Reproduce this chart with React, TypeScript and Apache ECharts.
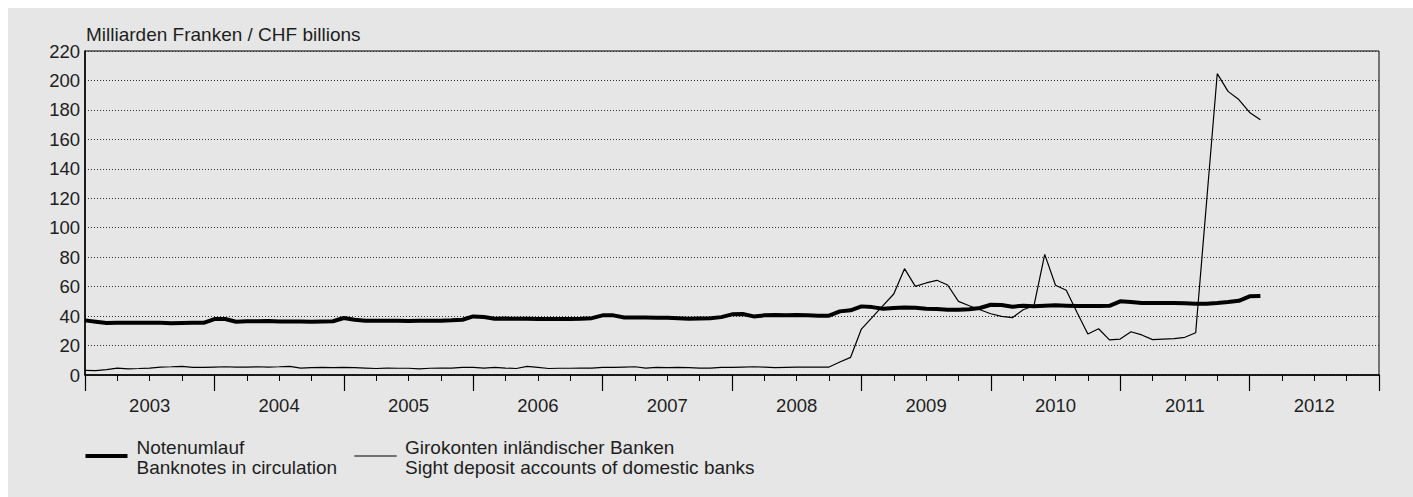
import React, { useEffect, useRef } from "react";
import * as echarts from "echarts";

// Monthly values, Jan 2003 onwards (CHF billions)
const banknotes = [
  37.1, 36.2, 35.3, 35.4, 35.5, 35.4, 35.5, 35.4, 35.1, 35.3, 35.4, 35.4,
  38.0, 38.0, 36.2, 36.5, 36.5, 36.6, 36.4, 36.3, 36.3, 36.1, 36.3, 36.5,
  38.7, 37.5, 36.8, 36.9, 36.8, 36.9, 36.7, 36.8, 36.9, 36.9, 37.1, 37.5,
  39.8, 39.4, 38.2, 38.3, 38.2, 38.2, 38.1, 38.0, 38.0, 38.1, 38.2, 38.6,
  40.5, 40.5, 39.0, 39.1, 39.0, 38.9, 38.8, 38.6, 38.2, 38.4, 38.6, 39.3,
  41.2, 41.4, 39.8, 40.5, 40.7, 40.6, 40.7, 40.6, 40.3, 40.3, 43.2, 43.9,
  46.6, 46.1, 45.0, 45.5, 45.9, 45.7, 45.0, 44.8, 44.3, 44.3, 44.6, 45.5,
  47.7, 47.5, 46.4, 47.0, 46.6, 47.0, 47.3, 47.1, 46.8, 46.8, 46.8, 47.0,
  50.0, 49.6, 48.9, 48.9, 48.9, 48.9, 48.7, 48.4, 48.4, 48.9, 49.6, 50.4,
  53.4, 53.6,
];

const sightDeposits = [
  3.1, 3.0, 3.6, 4.7, 4.2, 4.4, 4.7, 5.4, 5.6, 5.9, 5.2, 5.2,
  5.4, 5.6, 5.4, 5.4, 5.6, 5.4, 5.6, 5.9, 4.7, 5.0, 5.2, 5.0,
  5.2, 5.0, 4.7, 4.4, 4.7, 4.6, 4.6, 4.2, 4.6, 4.7, 4.7, 5.2,
  5.2, 4.7, 5.2, 4.7, 4.4, 5.9, 5.2, 4.4, 4.6, 4.6, 4.7, 4.7,
  5.2, 5.2, 5.4, 5.6, 4.7, 5.2, 5.0, 5.2, 5.0, 4.7, 4.7, 5.2,
  5.2, 5.4, 5.6, 5.4, 5.0, 5.2, 5.4, 5.4, 5.4, 5.4, 8.8, 12.0,
  31.2, 39.1, 47.1, 55.0, 72.2, 60.2, 62.5, 64.3, 61.1, 50.0, 47.0, 44.3,
  41.6, 39.8, 38.9, 44.3, 47.0, 81.9, 60.9, 57.5, 42.5, 27.8, 31.4, 23.8,
  24.4, 29.4, 27.2, 24.0, 24.4, 24.7, 25.6, 28.7, 116.6, 204.6, 192.6, 187.0,
  178.3, 173.4,
];

const years = [2003, 2004, 2005, 2006, 2007, 2008, 2009, 2010, 2011, 2012];
const yTicks = [0, 20, 40, 60, 80, 100, 120, 140, 160, 180, 200, 220];

const titleText = "Milliarden Franken / CHF billions";
const legendBanknotes = ["Notenumlauf", "Banknotes in circulation"];
const legendSight = [
  "Girokonten inländischer Banken",
  "Sight deposit accounts of domestic banks",
];

const FONT = '"Liberation Sans", Arial, Helvetica, sans-serif';
const TEXT = "#1e1e1e";

export default function App() {
  const ref = useRef<HTMLDivElement>(null);

  useEffect(() => {
    if (!ref.current) return;
    const chart = echarts.init(ref.current, undefined, { renderer: "svg" });
    const months = years.length * 12;

    const option: any = {
      animation: false,
      backgroundColor: "#e6e6e6",
      textStyle: { fontFamily: FONT },
      grid: {
        left: 77,
        top: 43,
        right: 34,
        bottom: 122,
        show: true,
        borderColor: "#000",
        borderWidth: 1,
        backgroundColor: "transparent",
        containLabel: false,
      },
      xAxis: [
        {
          type: "value",
          min: 0,
          max: months,
          interval: 3,
          position: "bottom",
          axisLine: { show: true, lineStyle: { color: "#000", width: 1.5 } },
          axisTick: { show: true, length: 6, lineStyle: { color: "#000", width: 1 } },
          splitLine: { show: false },
          axisLabel: {
            show: true,
            margin: 21,
            fontSize: 18.5,
            color: TEXT,
            fontFamily: FONT,
            showMinLabel: true,
            showMaxLabel: true,
            formatter: (v: number) => {
              if (v % 12 === 6) {
                const y = years[Math.floor(v / 12)];
                return y === undefined ? "" : String(y);
              }
              return "";
            },
          },
        },
        {
          type: "value",
          min: 0,
          max: months,
          interval: 12,
          position: "bottom",
          offset: 0,
          axisLine: { show: false },
          axisTick: { show: true, length: 16, lineStyle: { color: "#000", width: 1.2 } },
          axisLabel: { show: false },
          splitLine: { show: false },
        },
      ],
      yAxis: {
        type: "value",
        min: yTicks[0],
        max: yTicks[yTicks.length - 1],
        interval: 20,
        axisLine: { show: true, lineStyle: { color: "#000", width: 1.5 } },
        axisTick: { show: false },
        axisLabel: {
          margin: 5,
          fontSize: 18.5,
          color: TEXT,
          fontFamily: FONT,
        },
        splitLine: {
          show: true,
          lineStyle: { color: "#333", width: 1, type: [1, 2] },
        },
      },
      series: [
        {
          name: legendBanknotes.join("\n"),
          type: "line",
          xAxisIndex: 0,
          data: banknotes.map((v, i) => [i, v]),
          showSymbol: false,
          symbol: "none",
          lineStyle: { color: "#000", width: 4 },
          z: 3,
        },
        {
          name: legendSight.join("\n"),
          type: "line",
          xAxisIndex: 0,
          data: sightDeposits.map((v, i) => [i, v]),
          showSymbol: false,
          symbol: "none",
          lineStyle: { color: "#000", width: 1.2 },
          z: 4,
        },
      ],
      graphic: [
        {
          type: "text",
          left: 78,
          top: 17,
          style: {
            text: titleText,
            fontSize: 19,
            fontFamily: FONT,
            fill: TEXT,
          },
        },
        {
          type: "line",
          shape: { x1: 77.5, y1: 448, x2: 119.5, y2: 448 },
          style: { stroke: "#000", lineWidth: 4 },
        },
        {
          type: "text",
          left: 128.5,
          top: 430,
          style: {
            text: legendBanknotes.join("\n"),
            fontSize: 19,
            lineHeight: 19.5,
            fontFamily: FONT,
            fill: TEXT,
          },
        },
        {
          type: "line",
          shape: { x1: 346.3, y1: 448, x2: 388.7, y2: 448 },
          style: { stroke: "#000", lineWidth: 1.2 },
        },
        {
          type: "text",
          left: 397,
          top: 430,
          style: {
            text: legendSight.join("\n"),
            fontSize: 19,
            lineHeight: 19.5,
            fontFamily: FONT,
            fill: TEXT,
          },
        },
      ],
    };

    chart.setOption(option);
    return () => chart.dispose();
  }, []);

  return (
    <div
      ref={ref}
      style={{ position: "absolute", left: 8, top: 8, width: 1405, height: 489 }}
    />
  );
}
